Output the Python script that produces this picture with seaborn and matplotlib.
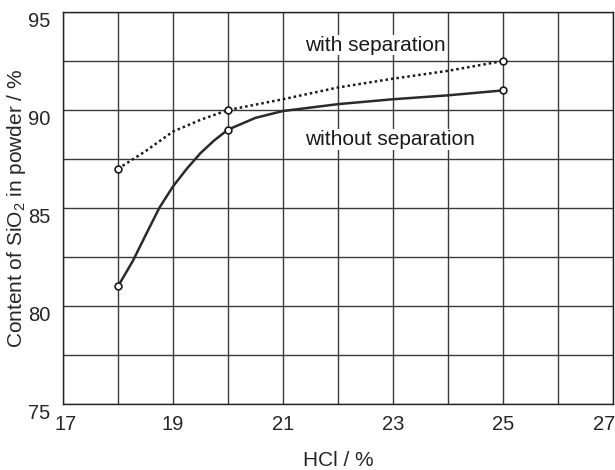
import matplotlib.pyplot as plt
import matplotlib.transforms as mtrans
import numpy as np
import seaborn as sns

sns.set_style('white')
plt.rcParams['font.family'] = ['Liberation Sans', 'DejaVu Sans']
plt.rcParams['mathtext.fontset'] = 'custom'
plt.rcParams['mathtext.rm'] = 'Liberation Sans'

# measured points
hcl = [18, 20, 25]
with_sep = [87.0, 90.0, 92.5]
without_sep = [81.0, 89.0, 91.0]

# curve
curve_x_with = [18, 18.5, 19, 19.5, 20, 21, 22, 23, 24, 25]
curve_y_with = [87.0, 87.9, 88.9, 89.5, 90.0, 90.55, 91.15, 91.6, 92.0, 92.5]
curve_x_without = [18, 18.27, 18.5, 18.75, 19, 19.25, 19.5, 19.75, 20, 20.5, 21, 22, 23, 24, 25]
curve_y_without = [81.0, 82.3, 83.6, 85.0, 86.1, 87.0, 87.8, 88.45, 89.0, 89.6, 89.95, 90.3, 90.55, 90.75, 91.0]

fig = plt.figure(figsize=(6.15, 4.7), dpi=100)
ax = fig.add_axes([0.1024, 0.1404, 0.8943, 0.834])

ax.set_xlim(17, 27)
ax.set_ylim(75, 95)
ax.set_xticks(np.arange(17, 28, 2))
ax.set_yticks(np.arange(75, 96, 5))
ax.set_xticks(np.arange(17, 28, 1), minor=True)
ax.set_yticks(np.arange(75, 96, 2.5), minor=True)
ax.grid(True, which='both', color='#3a3a3a', lw=1.0)
ax.set_axisbelow(True)
ax.tick_params(which='major', direction='out', length=6, width=1, color='#222222',
               labelsize=14.5)
ax.tick_params(axis='x', pad=2)
ax.tick_params(axis='y', pad=3)
ax.tick_params(which='minor', length=0)
for s in ax.spines.values():
    s.set_color('#222222')
    s.set_linewidth(1.0)

sns.lineplot(x=curve_x_with, y=curve_y_with, ax=ax, color='#1a1a1a', lw=1.8,
             linestyle=(0, (1, 1.2)), sort=False, estimator=None)
sns.lineplot(x=curve_x_without, y=curve_y_without, ax=ax, color='#2a2a2a', lw=1.8,
             sort=False, estimator=None)
sns.scatterplot(x=hcl, y=with_sep, ax=ax, marker='o', s=24, facecolor='white',
                edgecolor='#1a1a1a', linewidth=1.2, zorder=5)
sns.scatterplot(x=hcl, y=without_sep, ax=ax, marker='o', s=24, facecolor='white',
                edgecolor='#1a1a1a', linewidth=1.2, zorder=5)

ax.text(21.4, 93.3, 'with separation', fontsize=15, ha='left', va='center',
        color='#1a1a1a', bbox=dict(facecolor='white', edgecolor='none', pad=0.5))
ax.text(21.4, 88.5, 'without separation', fontsize=15, ha='left', va='center',
        color='#1a1a1a', bbox=dict(facecolor='white', edgecolor='none', pad=0.5))

ax.set_xlabel('HCl / %', fontsize=15, labelpad=12)
ax.set_ylabel('Content of SiO$_2$ in powder / %', fontsize=15)
ax.yaxis.set_label_coords(-0.064, 0.5)

# y tick labels sit a little low in the reference
shift = mtrans.ScaledTranslation(0, -7 / 100, fig.dpi_scale_trans)
for lab in ax.get_yticklabels():
    lab.set_transform(lab.get_transform() + shift)
last = ax.get_xticklabels()[-1]
last.set_horizontalalignment('right')
last.set_transform(last.get_transform() + mtrans.ScaledTranslation(0.02, 0, fig.dpi_scale_trans))
first = ax.get_xticklabels()[0]
first.set_transform(first.get_transform() + mtrans.ScaledTranslation(0.03, 0, fig.dpi_scale_trans))

fig.savefig('out.png', dpi=100)
